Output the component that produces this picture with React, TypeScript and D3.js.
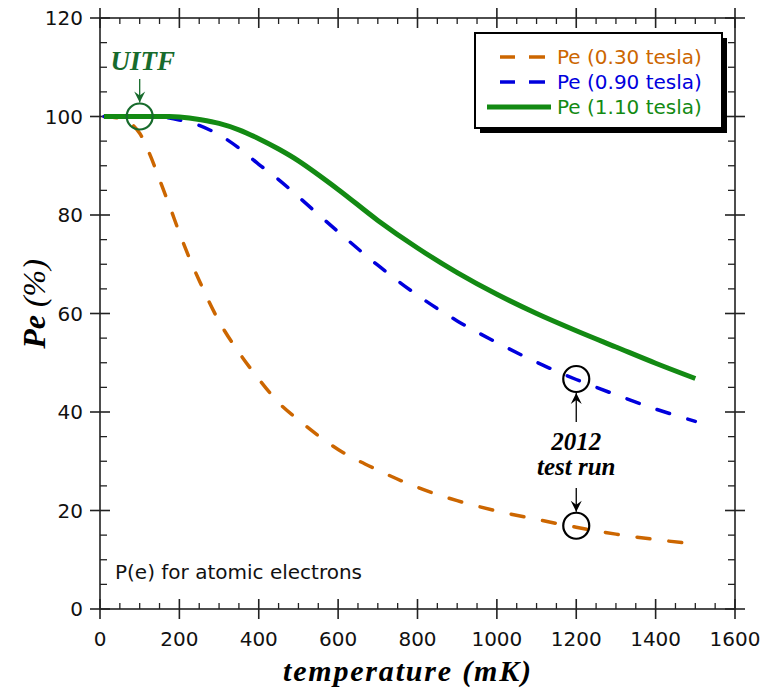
import React, { useEffect } from 'react';
import { scaleLinear, line, curveMonotoneX, curveCatmullRom, range } from 'd3';

// data
const temps = [10, 50, 100, 125, 150, 175, 200, 225, 250, 300, 350, 400, 450, 500, 600, 700, 800, 900, 1000, 1100, 1200, 1300, 1400, 1500];
const pe030 = [100, 99.6, 96.6, 92.4, 87.2, 81.9, 76.4, 71.3, 66.7, 58.4, 52.1, 46.7, 41.9, 38.4, 32.4, 28.2, 24.7, 22.0, 19.9, 18.2, 16.6, 15.2, 14.1, 13.2];
const pe090 = [100, 100, 100, 100, 99.9, 99.7, 99.3, 98.8, 98.2, 96.3, 93.6, 90.3, 87.2, 83.7, 76.6, 69.8, 63.7, 58.5, 54.1, 50.1, 46.6, 43.5, 40.6, 38.1];
const pe110 = [100, 100, 100, 100, 100, 100, 99.9, 99.7, 99.4, 98.6, 97.3, 95.5, 93.4, 91.0, 85.2, 78.9, 73.3, 68.3, 63.9, 60.0, 56.5, 53.2, 49.9, 46.8];

const seriesNames = ['Pe (0.30 tesla)', 'Pe (0.90 tesla)', 'Pe (1.10 tesla)'];
const seriesColors = ['#cc6600', '#0000dd', '#138a13'];

const xTicks = [0, 200, 400, 600, 800, 1000, 1200, 1400, 1600];
const yTicks = [0, 20, 40, 60, 80, 100, 120];

// marked points: [temperature, value]
const uitfPoint = [100, 100];
const runPoints = [[1200, 46.7], [1200, 16.9]];

const W = 772, H = 690;
const L = 100, R = 735, T = 18, B = 609;

export default function App() {
  useEffect(() => { document.body.style.margin = '0'; }, []);

  const x = scaleLinear().domain([0, 1600]).range([L, R]);
  const y = scaleLinear().domain([0, 120]).range([B, T]);

  const mk = (vals: number[], smooth: boolean) =>
    line<number>().x((d, i) => x(temps[i])).y(d => y(d))
      .curve(smooth ? curveCatmullRom.alpha(0.5) : curveMonotoneX)(vals) || '';

  const xMinor = range(0, 1601, 50).filter(v => v % 200 !== 0);
  const yMinor = range(0, 121, 5).filter(v => v % 20 !== 0);
  const axisCol = '#222';
  const sans = '"DejaVu Sans", sans-serif';
  const serif = '"Liberation Serif", serif';

  const ux = x(uitfPoint[0]), uy = y(uitfPoint[1]);
  const r = 13;

  return (
    <svg width={W} height={H} style={{ display: 'block', background: '#fff' }}>
      <defs>
        <marker id="headG" markerUnits="userSpaceOnUse" markerWidth="14" markerHeight="14" viewBox="-12 -7 14 14" refX="0" refY="0" orient="auto">
          <path d="M0,0 L-11,-5.5 L-7,0 L-11,5.5 Z" fill="#176b2c" />
        </marker>
        <marker id="headK" markerUnits="userSpaceOnUse" markerWidth="14" markerHeight="14" viewBox="-12 -7 14 14" refX="0" refY="0" orient="auto">
          <path d="M0,0 L-11,-5.5 L-7,0 L-11,5.5 Z" fill="#000" />
        </marker>
      </defs>

      {/* frame */}
      <rect x={L} y={T} width={R - L} height={B - T} fill="none" stroke={axisCol} strokeWidth={1.6} />
      {/* major ticks, crossing */}
      {xTicks.map(v => (
        <g key={'xm' + v} stroke={axisCol} strokeWidth={1.6}>
          <line x1={x(v)} x2={x(v)} y1={B - 10} y2={B + 10} />
          <line x1={x(v)} x2={x(v)} y1={T - 10} y2={T + 10} />
        </g>
      ))}
      {yTicks.map(v => (
        <g key={'ym' + v} stroke={axisCol} strokeWidth={1.6}>
          <line x1={L - 10} x2={L + 10} y1={y(v)} y2={y(v)} />
          <line x1={R - 10} x2={R + 10} y1={y(v)} y2={y(v)} />
        </g>
      ))}
      {xMinor.map(v => (
        <g key={'xn' + v} stroke={axisCol} strokeWidth={1.3}>
          <line x1={x(v)} x2={x(v)} y1={B} y2={B - 6} />
          <line x1={x(v)} x2={x(v)} y1={T} y2={T + 6} />
        </g>
      ))}
      {yMinor.map(v => (
        <g key={'yn' + v} stroke={axisCol} strokeWidth={1.3}>
          <line x1={L} x2={L + 7} y1={y(v)} y2={y(v)} />
          <line x1={R} x2={R - 7} y1={y(v)} y2={y(v)} />
        </g>
      ))}
      {/* tick labels */}
      {xTicks.map(v => (
        <text key={'xl' + v} x={x(v)} y={646} textAnchor="middle" fontFamily={sans} fontSize={20} fill="#111">{v}</text>
      ))}
      {yTicks.map(v => (
        <text key={'yl' + v} x={83} y={y(v) + 7} textAnchor="end" fontFamily={sans} fontSize={20} fill="#111">{v}</text>
      ))}

      {/* series */}
      <path d={mk(pe030, false)} fill="none" stroke={seriesColors[0]} strokeWidth={3.5} strokeDasharray="13 19" strokeLinecap="round" />
      <path d={mk(pe090, true)} fill="none" stroke={seriesColors[1]} strokeWidth={3.5} strokeDasharray="13 19" strokeLinecap="round" />
      <path d={mk(pe110, true)} fill="none" stroke={seriesColors[2]} strokeWidth={5} />

      {/* UITF marker */}
      <circle cx={ux} cy={uy} r={r} fill="none" stroke="#176b2c" strokeWidth={2.2} />
      <line x1={ux} x2={ux} y1={79} y2={uy - r - 1} stroke="#176b2c" strokeWidth={1.3} markerEnd="url(#headG)" />
      <text x={ux + 3} y={70} textAnchor="middle" fontFamily={serif} fontStyle="italic" fontWeight="bold" fontSize={27} fill="#176b2c">UITF</text>

      {/* 2012 test run markers */}
      {runPoints.map((p, i) => (
        <circle key={'c' + i} cx={x(p[0])} cy={y(p[1])} r={r} fill="none" stroke="#000" strokeWidth={2.2} />
      ))}
      <line x1={x(1200)} x2={x(1200)} y1={422} y2={y(runPoints[0][1]) + r + 1} stroke="#000" strokeWidth={1.3} markerEnd="url(#headK)" />
      <line x1={x(1200)} x2={x(1200)} y1={488} y2={y(runPoints[1][1]) - r - 1} stroke="#000" strokeWidth={1.3} markerEnd="url(#headK)" />
      <text x={x(1200)} y={450} textAnchor="middle" fontFamily={serif} fontStyle="italic" fontWeight="bold" fontSize={25} fill="#000">2012</text>
      <text x={x(1200)} y={475} textAnchor="middle" fontFamily={serif} fontStyle="italic" fontWeight="bold" fontSize={25} fill="#000">test run</text>

      {/* note */}
      <text x={115} y={579} fontFamily={sans} fontSize={20} fill="#111">P(e) for atomic electrons</text>

      {/* legend */}
      <rect x={480} y={38} width={247} height={95} fill="#000" />
      <rect x={475} y={33} width={247} height={95} fill="#fff" stroke="#000" strokeWidth={2} />
      {seriesNames.map((n, i) => (
        <g key={n}>
          {i < 2 ? (
            <g stroke={seriesColors[i]} strokeWidth={3.5}>
              <line x1={500} x2={515} y1={57 + i * 25} y2={57 + i * 25} />
              <line x1={529} x2={545} y1={57 + i * 25} y2={57 + i * 25} />
            </g>
          ) : (
            <line x1={487} x2={551} y1={57 + i * 25} y2={57 + i * 25} stroke={seriesColors[i]} strokeWidth={5} />
          )}
          <text x={557} y={64 + i * 25} fontFamily={sans} fontSize={20} fill={seriesColors[i]}>{n}</text>
        </g>
      ))}

      {/* axis titles */}
      <text x={407} y={681} textAnchor="middle" fontFamily={serif} fontStyle="italic" fontWeight="bold" fontSize={30} fill="#000" textLength={248} lengthAdjust="spacing">temperature (mK)</text>
      <text transform={`translate(45,304) rotate(-90)`} textAnchor="middle" fontFamily={serif} fontStyle="italic" fontSize={32} fill="#000">
        <tspan fontWeight="bold">Pe</tspan> (%)
      </text>
    </svg>
  );
}
